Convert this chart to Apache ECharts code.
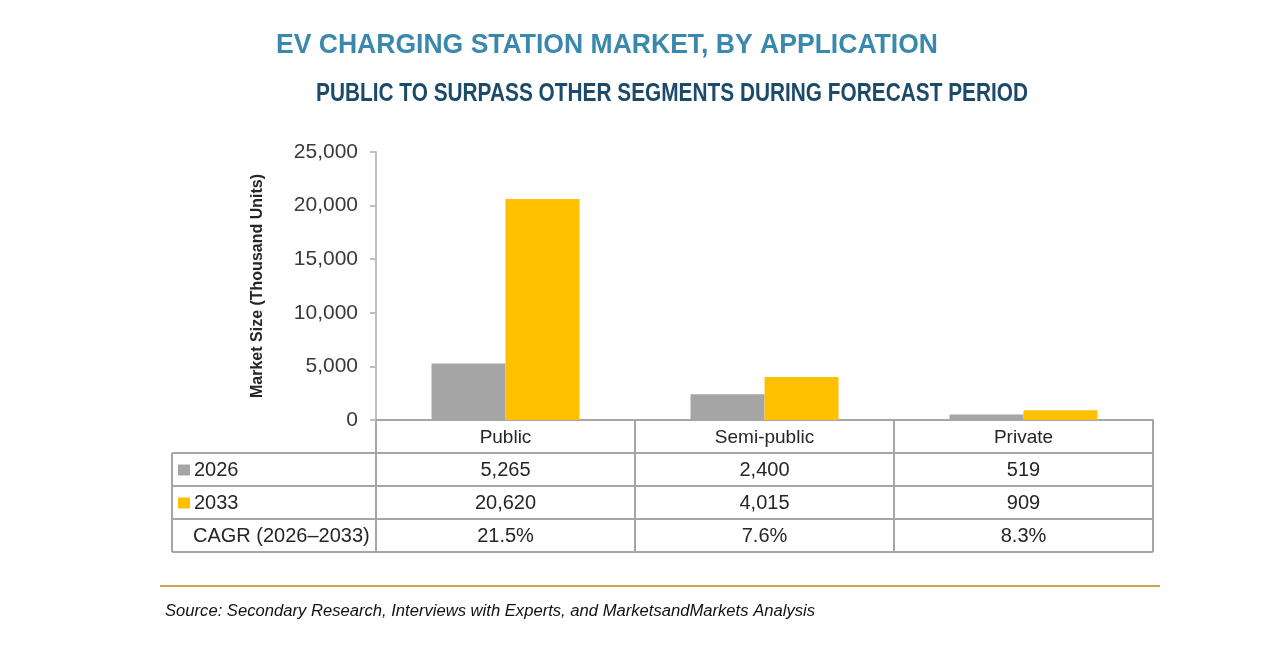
<!DOCTYPE html>
<html>
<head>
<meta charset="utf-8">
<script src="https://cdn.jsdelivr.net/npm/echarts@6/dist/echarts.min.js"></script>
<style>
html,body{margin:0;padding:0;background:#fff;}
#chart{width:1280px;height:670px;}
</style>
</head>
<body>
<div id="chart"></div>
<script>
const categories = ['Public', 'Semi-public', 'Private'];
const values2026 = [5265, 2400, 519];
const values2033 = [20620, 4015, 909];
const cagrLabels = ['21.5%', '7.6%', '8.3%'];
const seriesNames = ['2026', '2033'];
const cagrRowLabel = 'CAGR (2026\u20132033)';
const titleText = 'EV CHARGING STATION MARKET, BY APPLICATION';
const subtitleText = 'PUBLIC TO SURPASS OTHER SEGMENTS DURING FORECAST PERIOD';
const sourceText = 'Source: Secondary Research, Interviews with Experts, and MarketsandMarkets Analysis';
const yAxisName = 'Market Size (Thousand Units)';

const COLORS = { gray: '#a5a5a5', yellow: '#ffc000', grid: '#a6a6a6', axis: '#bfbfbf', text: '#262626' };
const SANS = '"Liberation Sans", Arial, sans-serif';

const chart = echarts.init(document.getElementById('chart'), null, { renderer: 'canvas' });
const G = { left: 376, right: 127, top: 152, bottom: 250 };
const W = 1280, H = 670;

const fmt = v => v.toLocaleString('en-US');

chart.setOption({
  animation: false,
  backgroundColor: '#fff',
  grid: { left: G.left, right: G.right, top: G.top, bottom: G.bottom, containLabel: false },
  xAxis: {
    type: 'category',
    data: categories,
    axisLine: { show: true, lineStyle: { color: COLORS.grid, width: 2 } },
    axisTick: { show: false },
    axisLabel: { color: COLORS.text, fontFamily: SANS, fontSize: 19, margin: 8 }
  },
  yAxis: {
    type: 'value',
    min: 0, max: 25000, interval: 5000,
    name: yAxisName,
    nameLocation: 'middle',
    nameGap: 110,
    nameRotate: 90,
    nameTextStyle: { color: COLORS.text, fontFamily: SANS, fontWeight: 'bold', fontSize: 16 },
    axisLine: { show: true, lineStyle: { color: COLORS.axis, width: 2 } },
    axisTick: { show: true, length: 6, lineStyle: { color: COLORS.axis, width: 2 } },
    splitLine: { show: false },
    axisLabel: { color: '#3a3a3a', fontFamily: SANS, fontSize: 21, margin: 18, formatter: v => fmt(v) }
  },
  series: [
    { name: seriesNames[0], type: 'bar', data: values2026, barWidth: 74, barGap: '0%', itemStyle: { color: COLORS.gray } },
    { name: seriesNames[1], type: 'bar', data: values2033, barWidth: 74, barGap: '0%', itemStyle: { color: COLORS.yellow } }
  ]
});

// measure helper for horizontal fitting of headline text
const ctx = document.createElement('canvas').getContext('2d');
function fitScale(text, font, target) {
  ctx.font = font;
  const w = ctx.measureText(text).width;
  return w > 0 ? target / w : 1;
}

const gl = G.left, gr = W - G.right, gb = H - G.bottom;
const rowH = 33;
const tableLeft = 172;
const nRows = 4;
const bandW = (gr - gl) / categories.length;
const cx = categories.map(c => chart.convertToPixel({ xAxisIndex: 0 }, c));

const els = [];
const line = (x1, y1, x2, y2, color, w) => els.push({
  type: 'line', shape: { x1, y1, x2, y2 }, style: { stroke: color || COLORS.grid, lineWidth: w || 2 }, silent: true
});

// table horizontal lines
for (let k = 1; k <= nRows; k++) {
  line(tableLeft, gb + rowH * k, gr, gb + rowH * k);
}
// vertical lines
line(gl, gb, gl, gb + rowH * nRows);
line(tableLeft, gb + rowH, tableLeft, gb + rowH * nRows);
cx.forEach(x => line(x + bandW / 2, gb, x + bandW / 2, gb + rowH * nRows));

const tableFont = 20;
const rows = [
  values2026.map(fmt),
  values2033.map(fmt),
  cagrLabels
];
rows.forEach((vals, r) => {
  const yc = gb + rowH * (r + 1) + rowH / 2 + 1;
  vals.forEach((v, i) => els.push({
    type: 'text', x: cx[i], y: yc,
    style: { text: v, fill: COLORS.text, font: tableFont + 'px ' + SANS, align: 'center', verticalAlign: 'middle' }
  }));
});
// row labels
const rowLabelX = tableLeft + 6;
[COLORS.gray, COLORS.yellow].forEach((c, r) => {
  const yc = gb + rowH * (r + 1) + rowH / 2 + 1;
  els.push({ type: 'rect', shape: { x: rowLabelX, y: yc - 6, width: 12, height: 11 }, style: { fill: c } });
  els.push({ type: 'text', x: rowLabelX + 16, y: yc,
    style: { text: seriesNames[r], fill: COLORS.text, font: tableFont + 'px ' + SANS, align: 'left', verticalAlign: 'middle' } });
});
els.push({ type: 'text', x: rowLabelX + 15, y: gb + rowH * 3 + rowH / 2 + 1,
  style: { text: cagrRowLabel, fill: COLORS.text, font: tableFont + 'px ' + SANS, align: 'left', verticalAlign: 'middle' } });

// titles
const titleFont = 'bold 28px ' + SANS;
els.push({ type: 'text', x: 276, y: 45, scaleX: fitScale(titleText, titleFont, 662),
  style: { text: titleText, fill: '#3a88ab', font: titleFont, align: 'left', verticalAlign: 'middle' } });
const subFont = 'bold 25px ' + SANS;
els.push({ type: 'text', x: 316, y: 94, scaleX: fitScale(subtitleText, subFont, 712),
  style: { text: subtitleText, fill: '#1b4a6b', font: subFont, align: 'left', verticalAlign: 'middle' } });

// separator and source
line(160, 586, 1160, 586, '#c9a94f', 2);
const srcFont = 'italic 16px ' + SANS;
els.push({ type: 'text', x: 165, y: 612, scaleX: fitScale(sourceText, srcFont, 650),
  style: { text: sourceText, fill: '#111111', font: srcFont, align: 'left', verticalAlign: 'middle' } });

chart.setOption({ graphic: { elements: els } });
</script>
</body>
</html>
